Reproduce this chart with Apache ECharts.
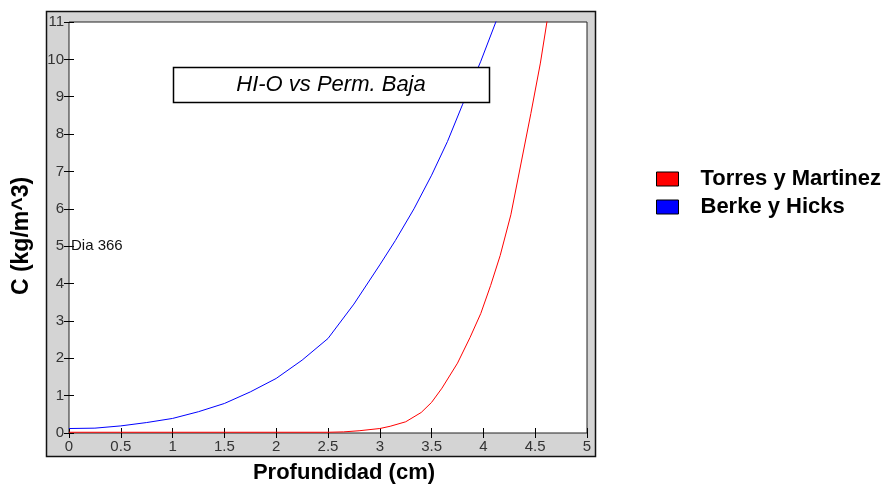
<!DOCTYPE html>
<html>
<head>
<meta charset="utf-8">
<script src="https://cdn.jsdelivr.net/npm/echarts@6/dist/echarts.min.js"></script>
<style>html,body{margin:0;padding:0;background:#fff}#c{width:887px;height:486px}</style>
</head>
<body>
<div id="c"></div>
<script>
// Data
const seriesNames = ['Torres y Martinez', 'Berke y Hicks'];
const depthRed = [0, 0.5, 1, 1.5, 2, 2.5, 2.65, 2.8, 3.0, 3.1, 3.25, 3.4, 3.5, 3.6, 3.75, 3.87, 3.975, 4.07, 4.162, 4.265, 4.362, 4.458, 4.55, 4.613, 4.63];
const valuesRed = [0.02, 0.02, 0.02, 0.02, 0.02, 0.02, 0.03, 0.06, 0.12, 0.18, 0.30, 0.55, 0.82, 1.2, 1.87, 2.55, 3.2, 3.95, 4.75, 5.84, 7.2, 8.55, 9.9, 11.0, 11.3];
const depthBlue = [0, 0.25, 0.5, 0.75, 1, 1.25, 1.5, 1.75, 2, 2.25, 2.5, 2.75, 3, 3.15, 3.33, 3.5, 3.653, 3.8, 3.975, 4.12, 4.15];
const valuesBlue = [0.12, 0.13, 0.19, 0.28, 0.39, 0.57, 0.79, 1.1, 1.46, 1.95, 2.53, 3.45, 4.5, 5.15, 6.0, 6.9, 7.8, 8.8, 9.95, 11.0, 11.2];
const xTicks = { min: 0, max: 5, interval: 0.5 };
const yTicks = { min: 0, max: 11, interval: 1 };
const chartTitle = 'HI-O vs Perm. Baja';
const note = 'Dia 366';
const xName = 'Profundidad (cm)';
const yName = 'C (kg/m^3)';

const pairs = (xs, ys) => xs.map((x, i) => [x, ys[i]]);
const labelStyle = { fontFamily: 'Liberation Sans', fontSize: 15, color: '#333' };
const tickStyle = { show: true, inside: true, length: 5, lineStyle: { color: '#000' } };

const chart = echarts.init(document.getElementById('c'));
chart.setOption({
  backgroundColor: '#fff',
  animation: false,
  grid: { left: 69, top: 22, right: 300, bottom: 53, show: true, backgroundColor: '#fff', borderColor: '#222', borderWidth: 1 },
  xAxis: [
    { type: 'value', min: xTicks.min, max: xTicks.max, interval: xTicks.interval, position: 'bottom',
      axisLine: { show: false }, axisTick: tickStyle, splitLine: { show: false },
      axisLabel: Object.assign({ margin: 6, formatter: v => String(v) }, labelStyle) },
    { type: 'value', min: xTicks.min, max: xTicks.max, interval: xTicks.interval, position: 'top',
      axisLine: { show: false }, axisTick: tickStyle, splitLine: { show: false }, axisLabel: { show: false } }
  ],
  yAxis: [
    { type: 'value', min: yTicks.min, max: yTicks.max, interval: yTicks.interval, position: 'left',
      axisLine: { show: false }, axisTick: tickStyle, splitLine: { show: false },
      axisLabel: Object.assign({ margin: 5 }, labelStyle) },
    { type: 'value', min: yTicks.min, max: yTicks.max, interval: yTicks.interval, position: 'right',
      axisLine: { show: false }, axisTick: tickStyle, splitLine: { show: false }, axisLabel: { show: false } }
  ],
  legend: {
    orient: 'vertical', left: 651, top: 163, itemWidth: 22, itemHeight: 14, itemGap: 6,
    icon: 'rect',
    data: [
      { name: seriesNames[0], itemStyle: { color: '#ff0000', borderColor: '#000', borderWidth: 1 } },
      { name: seriesNames[1], itemStyle: { color: '#0000ff', borderColor: '#000', borderWidth: 1 } }
    ],
    textStyle: { fontFamily: 'Liberation Sans', fontSize: 22, fontWeight: 'bold', color: '#000', padding: [0, 0, 0, 17] }
  },
  series: [
    { name: seriesNames[0], type: 'line', data: pairs(depthRed, valuesRed), showSymbol: false, clip: true, smooth: false,
      lineStyle: { color: '#ff0000', width: 1 }, itemStyle: { color: '#ff0000' }, z: 3 },
    { name: seriesNames[1], type: 'line', data: pairs(depthBlue, valuesBlue), showSymbol: false, clip: true, smooth: false,
      lineStyle: { color: '#0000ff', width: 1 }, itemStyle: { color: '#0000ff' }, z: 2 }
  ],
  graphic: [
    { type: 'rect', z: -10, silent: true, shape: { x: 46.5, y: 11.5, width: 549, height: 445 },
      style: { fill: '#d4d4d4', stroke: '#111', lineWidth: 1.5 } },
    { type: 'rect', z: 100, shape: { x: 173.5, y: 67.5, width: 316, height: 35 },
      style: { fill: '#fff', stroke: '#000', lineWidth: 1.5 } },
    { type: 'text', z: 101, x: 331, y: 85, style: { text: chartTitle, fontFamily: 'Liberation Sans', fontSize: 22, fontStyle: 'italic', fill: '#000', align: 'center', verticalAlign: 'middle' } },
    { type: 'text', z: 101, x: 71, y: 246, style: { text: note, fontFamily: 'Liberation Sans', fontSize: 15, fill: '#111', align: 'left', verticalAlign: 'middle' } },
    { type: 'text', z: 101, x: 344, y: 473, style: { text: xName, fontFamily: 'Liberation Sans', fontSize: 22, fontWeight: 'bold', fill: '#000', align: 'center', verticalAlign: 'middle' } },
    { type: 'text', z: 101, x: 22, y: 236, rotation: Math.PI / 2, style: { text: yName, fontFamily: 'Liberation Sans', fontSize: 23, fontWeight: 'bold', fill: '#000', align: 'center', verticalAlign: 'middle' } }
  ]
});
</script>
</body>
</html>
